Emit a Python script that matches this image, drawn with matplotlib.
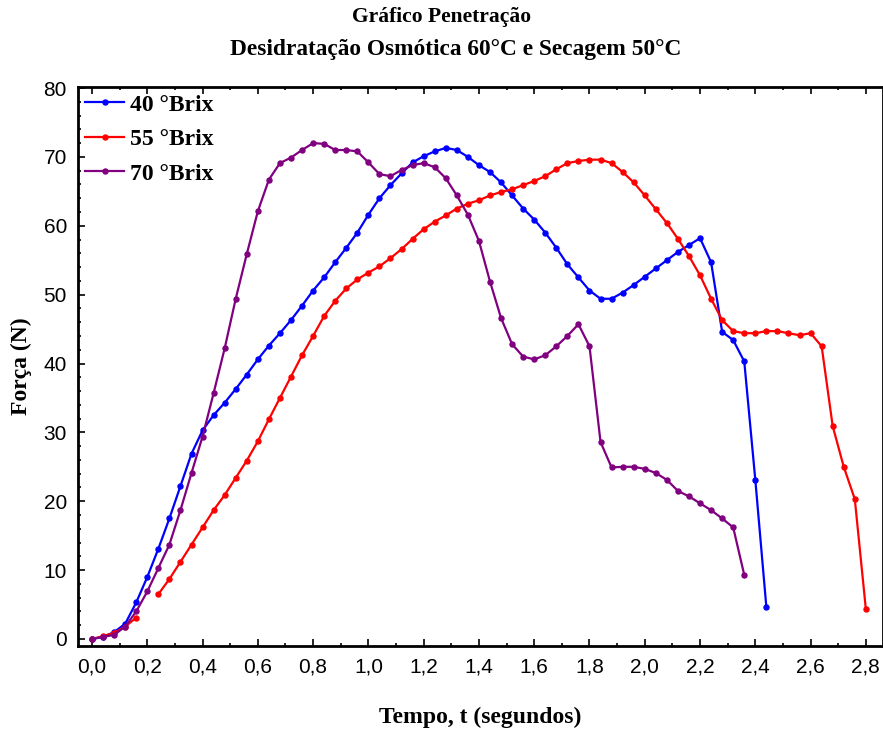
import numpy as np
import matplotlib
matplotlib.use("Agg")
import matplotlib.pyplot as plt
from matplotlib.ticker import MultipleLocator, FuncFormatter

# Penetration test: force vs. time for three sugar concentrations
t_40 = [0.00, 0.04, 0.08, 0.12, 0.16, 0.20, 0.24, 0.28, 0.32, 0.36, 0.40, 0.44,
        0.48, 0.52, 0.56, 0.60, 0.64, 0.68, 0.72, 0.76, 0.80, 0.84, 0.88, 0.92,
        0.96, 1.00, 1.04, 1.08, 1.12, 1.16, 1.20, 1.24, 1.28, 1.32, 1.36, 1.40,
        1.44, 1.48, 1.52, 1.56, 1.60, 1.64, 1.68, 1.72, 1.76, 1.80, 1.84, 1.88,
        1.92, 1.96, 2.00, 2.04, 2.08, 2.12, 2.16, 2.20, 2.24, 2.28, 2.32, 2.36,
        2.40, 2.44]
f_40 = [0.0, 0.3, 1.0, 2.2, 5.3, 9.0, 13.1, 17.5, 22.2, 26.9, 30.3, 32.5,
        34.3, 36.3, 38.4, 40.6, 42.6, 44.4, 46.3, 48.4, 50.6, 52.5, 54.7, 56.8,
        59.0, 61.6, 64.0, 65.9, 67.6, 69.2, 70.1, 70.8, 71.3, 71.0, 70.0, 68.8,
        67.8, 66.3, 64.4, 62.5, 60.9, 59.0, 56.8, 54.4, 52.5, 50.6, 49.4, 49.4,
        50.3, 51.4, 52.6, 53.8, 55.0, 56.2, 57.2, 58.2, 54.7, 44.6, 43.4, 40.3,
        23.1, 4.6]

t_55 = [0.00, 0.04, 0.08, 0.12, 0.16, 0.20, 0.24, 0.28, 0.32, 0.36, 0.40, 0.44,
        0.48, 0.52, 0.56, 0.60, 0.64, 0.68, 0.72, 0.76, 0.80, 0.84, 0.88, 0.92,
        0.96, 1.00, 1.04, 1.08, 1.12, 1.16, 1.20, 1.24, 1.28, 1.32, 1.36, 1.40,
        1.44, 1.48, 1.52, 1.56, 1.60, 1.64, 1.68, 1.72, 1.76, 1.80, 1.84, 1.88,
        1.92, 1.96, 2.00, 2.04, 2.08, 2.12, 2.16, 2.20, 2.24, 2.28, 2.32, 2.36,
        2.40, 2.44, 2.48, 2.52, 2.56, 2.60, 2.64, 2.68, 2.72, 2.76, 2.80]
f_55 = [0.0, 0.4, 0.9, 1.8, 3.1, np.nan, 6.5, 8.7, 11.2, 13.7, 16.2, 18.7,
        20.9, 23.4, 25.9, 28.7, 31.9, 35.0, 38.1, 41.2, 44.0, 46.9, 49.1, 50.9,
        52.2, 53.2, 54.1, 55.3, 56.6, 58.1, 59.5, 60.6, 61.5, 62.5, 63.2, 63.7,
        64.4, 64.9, 65.3, 65.9, 66.5, 67.2, 68.2, 69.1, 69.4, 69.6, 69.6, 69.1,
        67.8, 66.3, 64.4, 62.4, 60.4, 58.1, 55.6, 52.8, 49.4, 46.3, 44.7, 44.4,
        44.4, 44.7, 44.7, 44.4, 44.1, 44.4, 42.5, 30.9, 25.0, 20.3, 4.3]

t_70 = [0.00, 0.04, 0.08, 0.12, 0.16, 0.20, 0.24, 0.28, 0.32, 0.36, 0.40, 0.44,
        0.48, 0.52, 0.56, 0.60, 0.64, 0.68, 0.72, 0.76, 0.80, 0.84, 0.88, 0.92,
        0.96, 1.00, 1.04, 1.08, 1.12, 1.16, 1.20, 1.24, 1.28, 1.32, 1.36, 1.40,
        1.44, 1.48, 1.52, 1.56, 1.60, 1.64, 1.68, 1.72, 1.76, 1.80, 1.84, 1.88,
        1.92, 1.96, 2.00, 2.04, 2.08, 2.12, 2.16, 2.20, 2.24, 2.28, 2.32, 2.36]
f_70 = [0.0, 0.3, 0.6, 1.8, 4.0, 6.9, 10.3, 13.7, 18.7, 24.1, 29.4, 35.7,
        42.2, 49.4, 55.9, 62.1, 66.7, 69.1, 69.9, 71.0, 72.0, 71.9, 71.0, 71.0,
        70.8, 69.2, 67.5, 67.2, 68.1, 68.8, 69.1, 68.5, 66.9, 64.4, 61.6, 57.8,
        51.9, 46.6, 42.8, 41.0, 40.6, 41.2, 42.5, 44.0, 45.7, 42.5, 28.6, 24.9,
        25.0, 25.0, 24.7, 24.1, 23.1, 21.5, 20.7, 19.7, 18.7, 17.5, 16.2, 9.3]

labels = ["40 °Brix", "55 °Brix", "70 °Brix"]
colors = ["#0000ff", "#ff0000", "#800080"]

title_lines = ["Gráfico Penetração", "Desidratação Osmótica 60°C e Secagem 50°C"]
x_label = "Tempo, t (segundos)"
y_label = "Força (N)"

serif = ["Liberation Serif", "DejaVu Serif"]
sans = ["Liberation Sans Narrow", "Liberation Sans", "DejaVu Sans"]

fig = plt.figure(figsize=(8.83, 7.31), dpi=100)
ax = fig.add_axes([78 / 883, 1 - 646 / 731, 1 - 78 / 883, (646 - 87) / 731])

for t, f, lab, c in zip([t_40, t_55, t_70], [f_40, f_55, f_70], labels, colors):
    ax.plot(t, f, color=c, lw=1.6, marker="o", ms=3.6, mec=c, mfc=c, label=lab)

ax.set_xlim(-0.0507, 2.862)
ax.set_ylim(-1.02, 80.15)

ax.xaxis.set_major_locator(MultipleLocator(0.2))
ax.xaxis.set_minor_locator(MultipleLocator(0.1))
ax.yaxis.set_major_locator(MultipleLocator(10))
ax.yaxis.set_minor_locator(MultipleLocator(2))
ax.xaxis.set_major_formatter(FuncFormatter(lambda v, p: f"{v:.1f}".replace(".", ",")))
ax.yaxis.set_major_formatter(FuncFormatter(lambda v, p: f"{v:.0f}"))

ax.tick_params(which="both", direction="in", top=True, right=False, width=1.2, colors="black")
ax.tick_params(which="major", length=5, labelsize=15, pad=8)
ax.tick_params(which="minor", length=2.5)
for lbl in ax.get_xticklabels() + ax.get_yticklabels():
    lbl.set_family(sans)

for s in ax.spines.values():
    s.set_linewidth(2)

leg = ax.legend(loc="upper left", bbox_to_anchor=(0.0, 1.0), frameon=False,
                prop={"family": serif, "weight": "bold", "size": 17},
                handlelength=1.65, handletextpad=0.25, labelspacing=0.55,
                borderpad=0.2, borderaxespad=0.1, numpoints=1)

fig.text(442 / 883, 1 - 17 / 731, title_lines[0], ha="center", va="center",
         family=serif, weight="bold", fontsize=15.5)
fig.text(456 / 883, 1 - 50 / 731, title_lines[1], ha="center", va="center",
         family=serif, weight="bold", fontsize=16.8)

ax.set_xlabel(x_label, family=serif, weight="bold", fontsize=17, labelpad=22)
ax.set_ylabel(y_label, family=serif, weight="bold", fontsize=17, labelpad=8)

fig.savefig("out.png", dpi=100)
